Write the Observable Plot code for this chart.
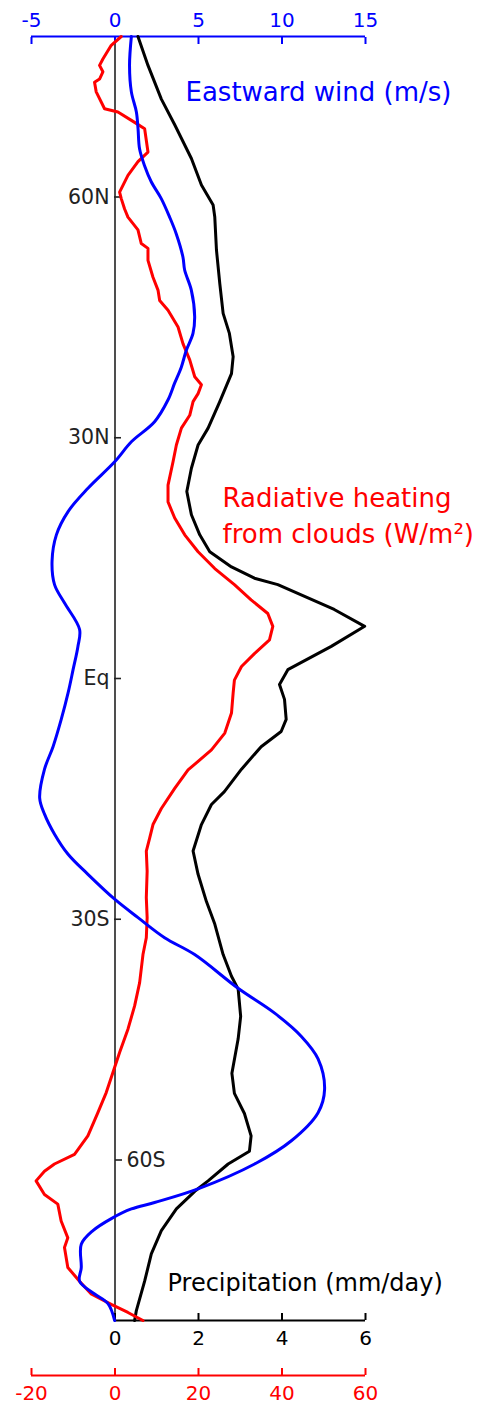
<!DOCTYPE html>
<html>
<head>
<meta charset="utf-8">
<script src="https://cdn.jsdelivr.net/npm/d3@7"></script>
<script src="https://cdn.jsdelivr.net/npm/@observablehq/plot@0.6"></script>
<style>
  html, body { margin: 0; padding: 0; background: #fff; }
  #chart svg { display: block; }
</style>
</head>
<body>
<div id="chart"></div>
<script>
// ---- data ----
const precipLat = [80, 76.4, 72.2, 69.0, 64.8, 61.5, 59.0, 57.5, 53.4, 49.2, 45.5, 43.0, 40.1, 38.0, 34.5, 31.2, 29.1, 26.2, 23.3, 20.4, 17.9, 15.8, 13.9, 12.5, 11.7, 8.6, 6.5, 4.0, 1.1, -0.75, -2.6, -5.1, -6.6, -8.5, -11.3, -14.1, -15.7, -18.2, -21.5, -24.4, -27.8, -30.6, -34.4, -37.1, -38.7, -42.1, -44.9, -49.2, -51.7, -54.2, -57.0, -58.9, -60.5, -62.6, -63.9, -66.1, -68.8, -71.7, -75.1, -78.8, -80];
const precip = [0.55, 0.79, 1.11, 1.43, 1.83, 2.07, 2.35, 2.39, 2.43, 2.51, 2.59, 2.74, 2.83, 2.79, 2.51, 2.23, 1.99, 1.83, 1.72, 1.83, 2.03, 2.27, 2.79, 3.34, 3.90, 5.25, 5.98, 5.18, 4.14, 3.94, 4.06, 4.10, 3.98, 3.50, 3.03, 2.62, 2.31, 2.07, 1.87, 1.99, 2.19, 2.39, 2.59, 2.79, 2.95, 3.01, 2.95, 2.80, 2.86, 3.10, 3.26, 3.22, 2.71, 2.23, 1.91, 1.47, 1.11, 0.87, 0.71, 0.51, 0.47];

const windLat = [80, 76.4, 73.1, 70.6, 68.5, 66.0, 63.9, 61.9, 59.8, 57.5, 55.4, 52.5, 50.9, 48.4, 45.1, 43.0, 40.9, 38.8, 36.8, 34.7, 32.0, 29.5, 27.0, 23.7, 20.8, 17.9, 14.6, 11.7, 9.4, 6.1, 4.0, 1.1, -1.8, -5.1, -8.5, -11.3, -14.9, -16.9, -19.4, -21.9, -24.4, -27.5, -29.8, -32.3, -34.4, -38.6, -41.7, -44.6, -47.4, -51.2, -54.1, -57.6, -60.5, -63.6, -65.3, -66.1, -67.3, -68.8, -70.5, -73.4, -75.1, -76.7, -77.9, -80];
const wind = [0.98, 0.87, 0.98, 1.28, 1.38, 1.47, 1.77, 2.17, 2.77, 3.27, 3.67, 4.07, 4.17, 4.57, 4.77, 4.67, 4.27, 3.97, 3.57, 3.17, 2.37, 0.98, -0.02, -1.62, -2.81, -3.51, -3.77, -3.62, -3.02, -2.12, -2.22, -2.51, -2.81, -3.22, -3.71, -4.22, -4.51, -4.22, -3.62, -2.81, -1.62, -0.02, 1.38, 2.97, 4.77, 7.37, 9.56, 11.16, 12.16, 12.55, 12.16, 10.56, 8.36, 4.97, 2.37, 0.98, -0.22, -1.32, -2.02, -2.02, -2.12, -1.22, -0.42, -0.02];

const heatLat = [80, 78.9, 77.2, 76.4, 75.6, 74.7, 74.3, 73.1, 71.0, 70.6, 69.3, 68.5, 65.6, 64.4, 62.7, 60.6, 59.8, 58.5, 57.5, 55.9, 54.2, 53.6, 52.1, 50.0, 48.4, 47.1, 45.9, 43.8, 41.7, 39.7, 37.6, 36.6, 35.5, 34.5, 32.8, 31.2, 29.1, 27.0, 24.1, 22.0, 20.0, 17.9, 15.8, 13.7, 11.7, 9.8, 8.1, 6.5, 4.8, 3.1, 1.5, -0.2, -1.8, -4.3, -6.8, -8.9, -11.4, -13.7, -16.2, -18.2, -19.9, -21.5, -24.0, -27.3, -29.8, -32.3, -34.4, -37.9, -40.8, -43.7, -46.6, -49.1, -51.6, -54.1, -57.0, -59.3, -60.5, -61.4, -62.6, -64.3, -65.5, -67.6, -69.7, -70.9, -73.4, -75.1, -76.7, -78.0, -79.0, -80];
const heat = [1.5, -0.9, -2.9, -3.7, -2.9, -3.7, -4.9, -4.5, -2.5, 0.7, 4.7, 7.1, 7.9, 5.5, 3.1, 1.1, 1.5, 2.3, 3.1, 5.5, 6.3, 7.9, 7.9, 9.1, 10.3, 10.7, 12.7, 15.1, 16.3, 17.9, 19.1, 20.7, 19.9, 18.7, 17.9, 15.9, 14.7, 13.9, 12.7, 12.7, 14.3, 16.7, 19.9, 23.9, 28.6, 32.6, 36.6, 37.8, 37.0, 33.4, 30.3, 28.6, 28.3, 27.9, 26.3, 23.1, 17.5, 14.3, 11.1, 9.1, 8.3, 7.5, 7.7, 7.5, 7.7, 7.5, 6.7, 5.9, 4.7, 3.1, 1.1, -0.5, -2.1, -4.1, -6.5, -9.7, -14.5, -16.9, -18.9, -16.9, -13.7, -12.9, -11.3, -12.1, -11.3, -8.5, -5.7, -0.9, 3.1, 6.7];

const windTicks = [-5, 0, 5, 10, 15];
const precipTicks = [0, 2, 4, 6];
const heatTicks = [-20, 0, 20, 40, 60];
const latTicksLeft = [60, 30, 0, -30];
const latTicksRight = [-60];
const latLabel = d => d === 0 ? "Eq" : d > 0 ? `${d}N` : `${-d}S`;

// all three quantities share one pixel axis: wind (m/s) is the base unit
const PRECIP_K = 2.5;   // 6 mm/day  <-> 15 m/s
const HEAT_K = 0.25;    // 60 W/m2   <-> 15 m/s

const BLUE = "#0000ff";
const RED = "#ff0000";
const FONT = "DejaVu Sans";

const precipData = precipLat.map((lat, i) => ({lat, v: precip[i]}));
const windData = windLat.map((lat, i) => ({lat, v: wind[i]}));
const heatData = heatLat.map((lat, i) => ({lat, v: heat[i]}));

const chart = Plot.plot({
  width: 483,
  height: 1405,
  marginLeft: 31,
  marginRight: 118,
  marginTop: 36,
  marginBottom: 85,
  x: {domain: [-5, 15], axis: null},
  y: {domain: [-80, 80], axis: null},
  style: {fontFamily: FONT, fontSize: "20px", background: "#fff", overflow: "visible"},
  marks: [
    // zero line
    Plot.ruleX([0], {stroke: "#222", strokeWidth: 1.6}),
    // top wind axis
    Plot.ruleY([80], {stroke: BLUE, strokeWidth: 2}),
    Plot.axisX({anchor: "top", ticks: windTicks, tickSize: 7, dy: 7, tickPadding: 10, label: null,
      color: BLUE, fontSize: 20, strokeWidth: 2, tickFormat: d => String(d)}),
    // precipitation axis
    Plot.ruleY([-80], {x1: 0, x2: 15, stroke: "#000", strokeWidth: 2}),
    Plot.axisX({anchor: "bottom", ticks: precipTicks.map(p => p * PRECIP_K), tickSize: 7, dy: -7, tickPadding: 10, label: null,
      color: "#000", fontSize: 20, strokeWidth: 2, tickFormat: d => String(Math.round(d / PRECIP_K))}),
    // heating axis
    Plot.ruleY([-80], {stroke: RED, strokeWidth: 2, dy: 55}),
    Plot.axisX({anchor: "bottom", ticks: heatTicks.map(h => h * HEAT_K), tickSize: 7, dy: 48, tickPadding: 10, label: null,
      color: RED, fontSize: 20, strokeWidth: 2, tickFormat: d => String(Math.round(d / HEAT_K))}),
    // latitude ticks
    Plot.axisY({anchor: "left", ticks: latTicksLeft, tickSize: 7, dx: 90, tickPadding: 5, label: null,
      color: "#222", fontSize: 20.5, strokeWidth: 1.6, tickFormat: latLabel}),
    Plot.axisY({anchor: "right", ticks: latTicksRight, tickSize: 7, dx: -251, tickPadding: 5, label: null,
      color: "#222", fontSize: 20.5, strokeWidth: 1.6, tickFormat: latLabel}),
    // series
    Plot.lineX(precipData, {x: d => d.v * PRECIP_K, y: "lat", stroke: "#000", strokeWidth: 3, strokeLinejoin: "round"}),
    Plot.lineX(heatData, {x: d => d.v * HEAT_K, y: "lat", stroke: RED, strokeWidth: 3, strokeLinejoin: "round"}),
    Plot.lineX(windData, {x: "v", y: "lat", stroke: BLUE, strokeWidth: 3, curve: "catmull-rom", strokeLinejoin: "round"}),
    // labels
    Plot.text(["Eastward wind (m/s)"], {frameAnchor: "top-left", dx: 185 - 31, dy: 92 - 36,
      textAnchor: "start", lineAnchor: "middle", fill: BLUE, fontSize: 26}),
    Plot.text(["Radiative heating\nfrom clouds (W/m²)"], {frameAnchor: "top-left", dx: 222 - 31, dy: 481 - 36,
      textAnchor: "start", lineAnchor: "top", lineHeight: 1.38, fill: RED, fontSize: 26}),
    Plot.text(["Precipitation (mm/day)"], {frameAnchor: "top-left", dx: 167 - 31, dy: 1283 - 36,
      textAnchor: "start", lineAnchor: "middle", fill: "#000", fontSize: 24})
  ]
});
document.getElementById("chart").appendChild(chart);
</script>
</body>
</html>
